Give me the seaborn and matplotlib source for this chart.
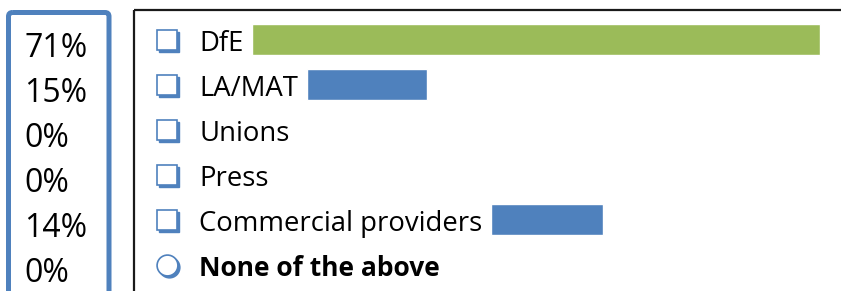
import matplotlib
matplotlib.use("Agg")
import matplotlib.pyplot as plt
import matplotlib.patches as mpatches
import matplotlib.transforms as mtransforms
import seaborn as sns
import pandas as pd

# ---------------- data ----------------
categories = ["DfE", "LA/MAT", "Unions", "Press", "Commercial providers", "None of the above"]
percent_values = [71, 15, 0, 0, 14, 0]
percent_labels = ["71%", "15%", "0%", "0%", "14%", "0%"]
bar_colors = ["#9BBB59", "#4F81BD", "#4F81BD", "#4F81BD", "#4F81BD", "#4F81BD"]
icon_shapes = ["s", "s", "s", "s", "s", "o"]
bold_rows = [False, False, False, False, False, True]

# ---------------- style ----------------
sns.set_theme(style="white")
plt.rcParams['font.family'] = ['Open Sans', 'DejaVu Sans']

W, H, DPI = 841, 291, 100
PX_PER_PCT = 8.0
BLUE = "#4F81BD"

fig = plt.figure(figsize=(W / DPI, H / DPI), dpi=DPI)
fig.patch.set_facecolor("white")

# overlay axes in pixel coordinates for the two frames
over = fig.add_axes([0, 0, 1, 1])
over.set_xlim(0, W)
over.set_ylim(H, 0)
over.axis("off")
over.add_patch(mpatches.FancyBboxPatch((8.5, 12.5), 100.5, 320,
                                       boxstyle="round,pad=0,rounding_size=4",
                                       fill=False, ec=BLUE, lw=3.6))
over.add_patch(mpatches.Rectangle((134, 9.5), 800, 320, fill=False,
                                  ec="#1a1a1a", lw=1.6))

# bar axes: one row per category
row0, step = 39.5, 45.0
top = row0 - step / 2
bottom = row0 + 5 * step + step / 2
bar_ax = fig.add_axes([0, (H - bottom) / H, 1, (bottom - top) / H])
bar_ax.set_facecolor("none")

df = pd.DataFrame({"source": categories, "percent": percent_values})
sns.barplot(data=df, x="percent", y="source", hue="source", order=categories,
            hue_order=categories, palette=bar_colors, legend=False, orient="h",
            width=0.67, saturation=1, errorbar=None, ax=bar_ax)
bar_ax.set_ylim(len(categories) - 0.5, -0.5)
bar_ax.set_xlim(0, W / PX_PER_PCT)
bar_ax.axis("off")

blend = mtransforms.blended_transform_factory(bar_ax.transAxes, bar_ax.transData)
def shift(dx_px, dy_px):
    return mtransforms.ScaledTranslation(dx_px / DPI, -dy_px / DPI, fig.dpi_scale_trans)

# answer labels
labels = []
for i, cat in enumerate(categories):
    t = bar_ax.text(199 / W, i, cat, transform=blend + shift(0, 11.5),
                    fontsize=19 if bold_rows[i] else 19.8,
                    va="baseline", ha="left", color="black",
                    fontweight="bold" if bold_rows[i] else "normal")
    labels.append(t)

# icons (checkbox / radio) with a shadow
for i, shp in enumerate(icon_shapes):
    bar_ax.plot([167 / W], [i], marker=shp, ms=15, mfc=BLUE, mec=BLUE, mew=1.0,
                transform=blend + shift(2.2, 2.2), clip_on=False)
    bar_ax.plot([167 / W], [i], marker=shp, ms=15, mfc="white", mec=BLUE, mew=1.2,
                transform=blend, clip_on=False)

# percentages on the left
for i, lab in enumerate(percent_labels):
    bar_ax.text(24 / W, i, lab, transform=blend + shift(0, 17.5),
                fontsize=23, va="baseline", ha="left", color="black")

# move each bar so it starts right after its label
renderer = fig.canvas.get_renderer()
inv = bar_ax.transData.inverted()
for p in bar_ax.patches:
    idx = int(round(p.get_y() + p.get_height() / 2))
    bb = labels[idx].get_window_extent(renderer)
    x0 = inv.transform((bb.x1 + 9, 0))[0]
    p.set_x(x0)

fig.savefig("out.png", dpi=DPI, facecolor="white")
